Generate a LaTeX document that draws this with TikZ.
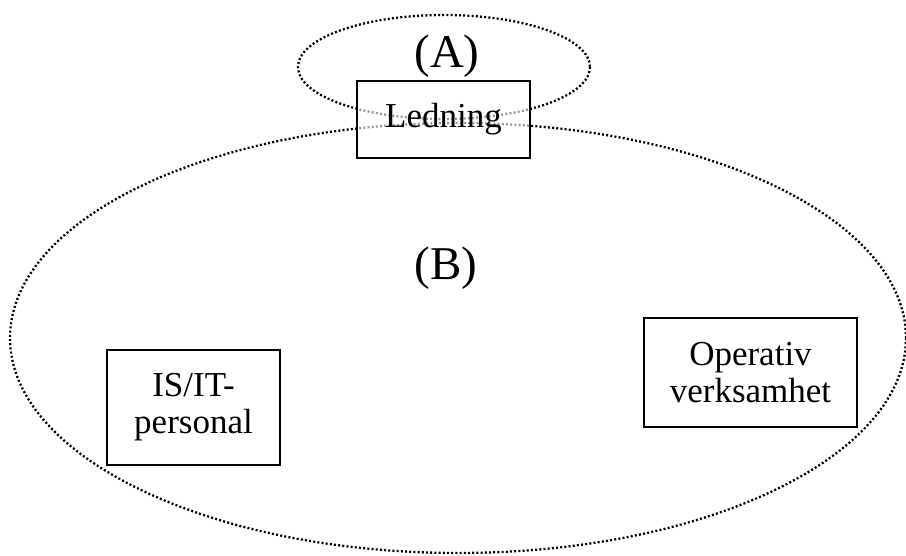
\documentclass[tikz,border=0pt]{standalone}
\usepackage{fontspec}
\setmainfont{Liberation Serif}
\begin{document}
\begin{tikzpicture}[x=1pt,y=-1pt,
  zone/.style={line width=2.3pt,dash pattern=on 2pt off 2.2pt},
  box/.style={draw,line width=1.5pt,fill=white,fill opacity=0.6,text opacity=1,
    inner sep=0pt,align=center,font=\fontsize{35}{37}\selectfont},
  tag/.style={font=\fontsize{47}{50}\selectfont}]
\useasboundingbox (0,0) rectangle (906,555);
\draw[zone] (444,67) ellipse [x radius=146, y radius=52];
\draw[zone] (458,338) ellipse [x radius=448, y radius=215];
\node[tag] (a) at (447,56) {(A)};
\node[tag] (b) at (446,268) {(B)};
\node[box,minimum width=173pt,minimum height=77pt] (ledning) at (443.5,119.5) {Ledning};
\node[box,minimum width=173pt,minimum height=115pt] (isit) at (193.5,407.5) {IS/IT-\\personal};
\node[box,minimum width=213pt,minimum height=109pt] (operativ) at (750.5,372.5) {Operativ\\verksamhet};
\end{tikzpicture}
\end{document}
